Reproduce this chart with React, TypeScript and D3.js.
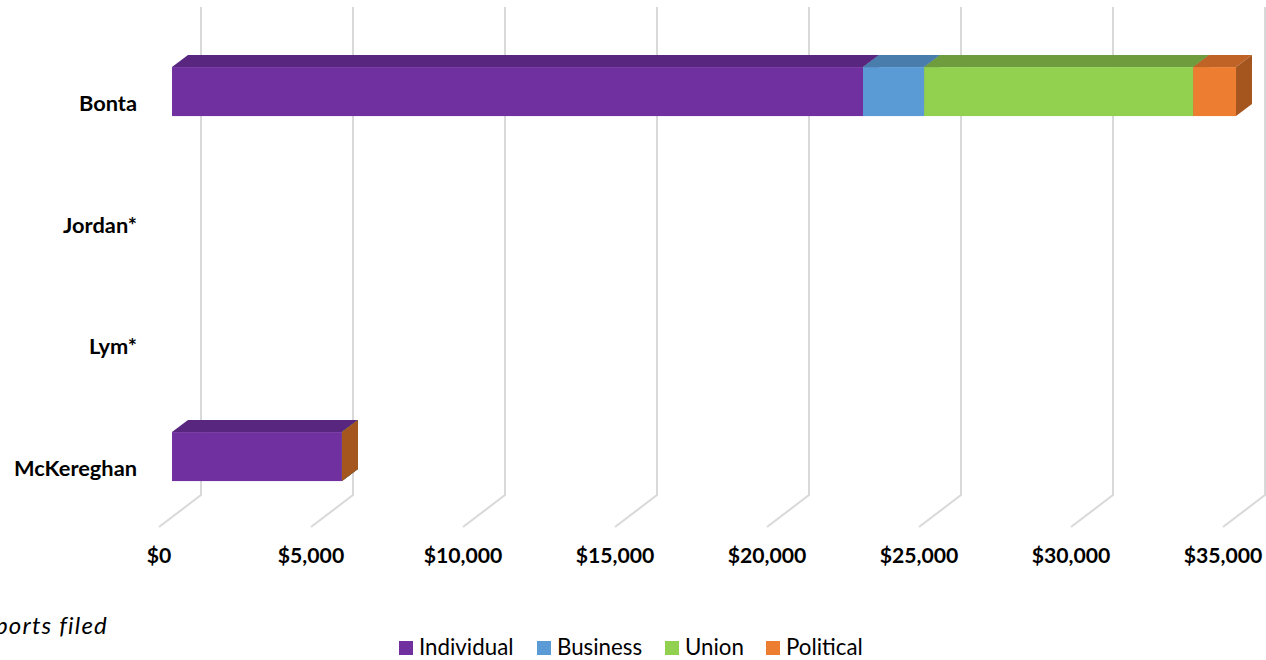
import React from "react";
import * as d3 from "d3";

const categories = ["Bonta", "Jordan*", "Lym*", "McKereghan"];
const seriesNames = ["Individual", "Business", "Union", "Political"];
const individual: (number | null)[] = [22730, null, null, 5590];
const business: (number | null)[] = [2010, null, null, 0];
const union: (number | null)[] = [8850, null, null, 0];
const political: (number | null)[] = [1410, null, null, 0];
const tickValues = [0, 5000, 10000, 15000, 20000, 25000, 30000, 35000];

const frontColors = ["#7030A0", "#5B9BD5", "#92D050", "#ED7D31"];
const topColors = ["#58267F", "#497DAB", "#6F9D3D", "#BF6327"];
const sideColors = ["#4E2270", "#3F6C94", "#5F8734", "#A5561F"];

const W = 1266;
const H = 660;
const FONT = "Lato, 'Open Sans', sans-serif";

export default function App() {
  const x = d3.scaleLinear().domain([0, 35000]).range([201, 1265]);
  const yc = d3.scalePoint<string>().domain(categories).range([69.5, 434.5]);
  const barH = 49;
  const depth = { dx: -42, dy: 32 };
  const fBack = 0.31;
  const fFront = 0.69;
  const wallTop = 7;
  const wallBottom = 495;
  const fmt = (v: number) => "$" + d3.format(",")(v);
  const allSeries = [individual, business, union, political];

  const bars: JSX.Element[] = [];
  categories.forEach((c, ci) => {
    const cy = yc(c)!;
    const top0 = cy - barH / 2;
    let cum = 0;
    allSeries.forEach((s, si) => {
      const v = s[ci];
      if (v === null || v === undefined) return;
      const a = cum;
      const b = cum + v;
      cum = b;
      const bx0 = x(a) + fBack * depth.dx;
      const bx1 = x(b) + fBack * depth.dx;
      const by = top0 + fBack * depth.dy;
      const fx0 = x(a) + fFront * depth.dx;
      const fx1 = x(b) + fFront * depth.dx;
      const fy = top0 + fFront * depth.dy;
      bars.push(
        <polygon
          key={`t-${ci}-${si}`}
          points={`${fx0},${fy} ${fx1},${fy} ${bx1},${by} ${bx0},${by}`}
          fill={topColors[si]}
        />
      );
      bars.push(
        <polygon
          key={`s-${ci}-${si}`}
          points={`${fx1},${fy} ${bx1},${by} ${bx1},${by + barH} ${fx1},${fy + barH}`}
          fill={sideColors[si]}
        />
      );
      bars.push(
        <rect
          key={`f-${ci}-${si}`}
          x={fx0}
          y={fy}
          width={Math.max(0, fx1 - fx0)}
          height={barH}
          fill={frontColors[si]}
        />
      );
    });
  });

  const legendItems = [
    { sx: 399, tx: 419 },
    { sx: 537, tx: 557 },
    { sx: 665, tx: 685 },
    { sx: 766, tx: 786 },
  ];

  return (
    <svg
      width={W}
      height={H}
      style={{ position: "absolute", left: 0, top: 0, background: "#fff" }}
      fontFamily={FONT}
    >
      <rect x={0} y={0} width={W} height={H} fill="#fff" />
      {tickValues.map((t) => (
        <polyline
          key={`g-${t}`}
          points={`${x(t)},${wallTop} ${x(t)},${wallBottom} ${x(t) + depth.dx},${wallBottom + depth.dy}`}
          fill="none"
          stroke="#D9D9D9"
          strokeWidth={2}
        />
      ))}
      {bars}
      {tickValues.map((t) => (
        <text
          key={`tl-${t}`}
          x={x(t) + depth.dx}
          y={563}
          textAnchor="middle"
          fontWeight="bold"
          fontSize={21.2}
          fill="#000"
        >
          {fmt(t)}
        </text>
      ))}
      {categories.map((c) => (
        <text
          key={`c-${c}`}
          x={137}
          y={yc(c)! + 41.5}
          textAnchor="end"
          fontWeight="bold"
          fontSize={21.8}
          fill="#000"
        >
          {c}
        </text>
      ))}
      <text
        x={108}
        y={634}
        textAnchor="end"
        fontStyle="italic"
        fontSize={24}
        letterSpacing={1.2}
        fill="#000"
      >
        *No reports filed
      </text>
      {seriesNames.map((n, i) => (
        <g key={`l-${n}`}>
          <rect x={legendItems[i].sx} y={641} width={14} height={14} fill={frontColors[i]} />
          <text x={legendItems[i].tx} y={655} fontSize={22.3} fill="#000">
            {n}
          </text>
        </g>
      ))}
    </svg>
  );
}
